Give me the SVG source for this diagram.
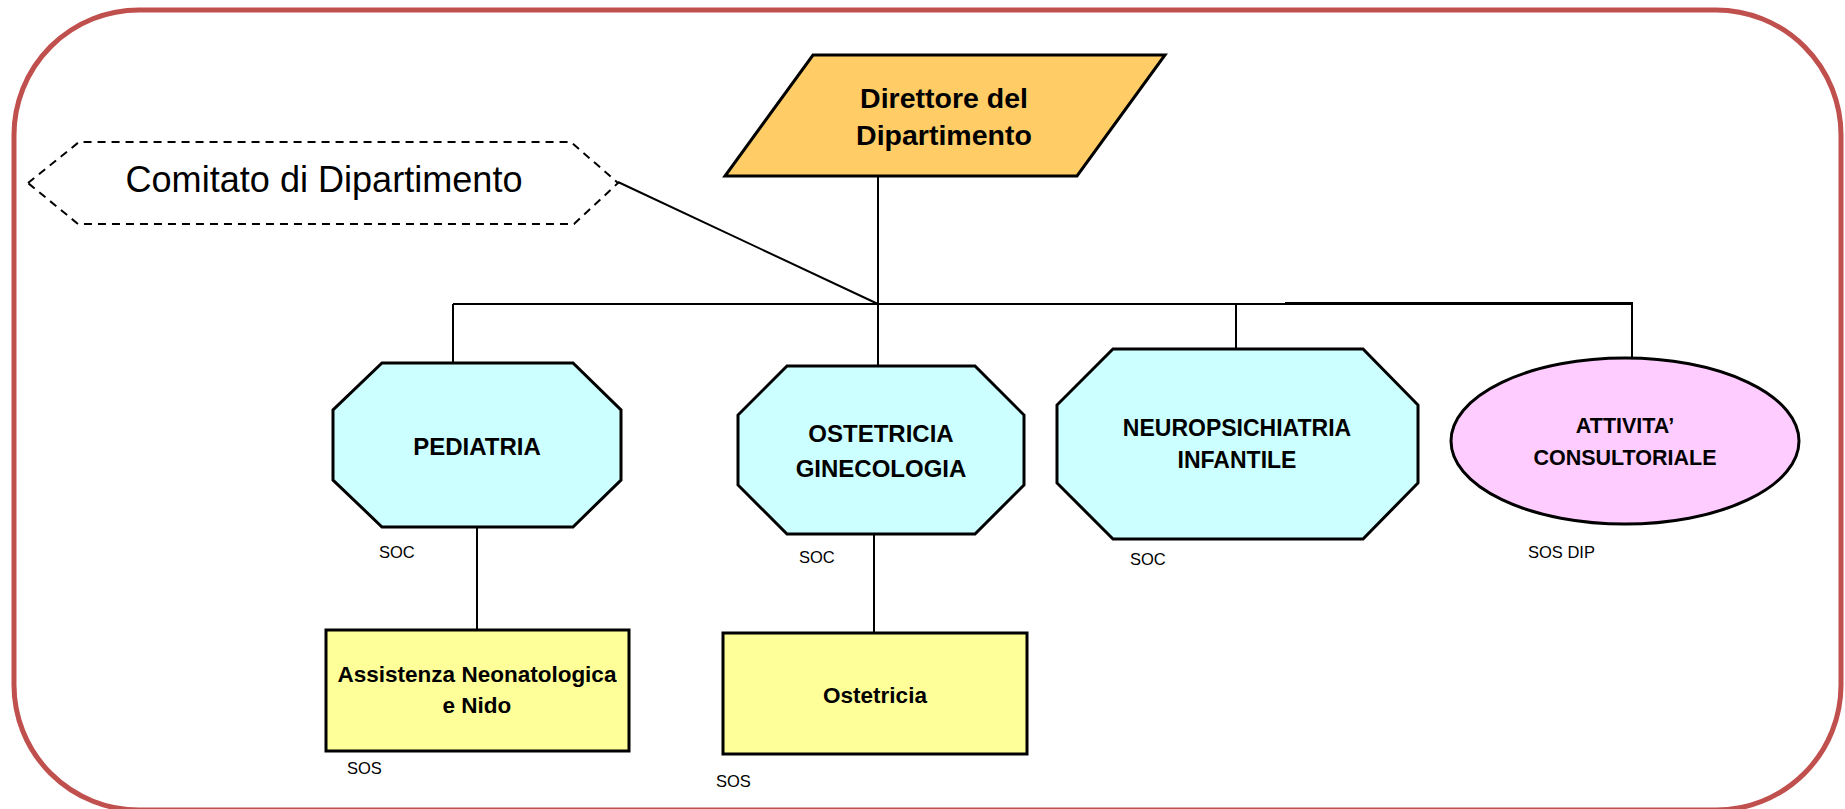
<svg xmlns="http://www.w3.org/2000/svg" width="1845" height="809" viewBox="0 0 1845 809">
<style>
.frame{fill:none;stroke:#C0504D;stroke-width:5}
.oct{fill:#CCFFFF;stroke:#000;stroke-width:3;stroke-linejoin:miter}
.box{fill:#FFFF99;stroke:#000;stroke-width:3}
.dir{fill:#FFCC66;stroke:#000;stroke-width:3}
.ell{fill:#FFCCFF;stroke:#000;stroke-width:3}
.com{fill:#fff;stroke:#000;stroke-width:2;stroke-dasharray:8 6}
.ln{stroke:#000;stroke-width:2;fill:none}
.ln3{stroke:#000;stroke-width:3;fill:none}
.t{font-family:"Liberation Sans",Arial,sans-serif;fill:#000;text-anchor:middle}
.b{font-weight:bold}
.lbl{font-family:"Liberation Sans",Arial,sans-serif;font-size:16.5px;fill:#000}
</style>
<rect class="frame" x="14" y="10" width="1827" height="800" rx="125" ry="125"/>
<g id="connectors">
<line class="ln" x1="878" y1="176" x2="878" y2="304"/>
<line class="ln" x1="618" y1="182" x2="878" y2="304"/>
<line class="ln" x1="453" y1="304" x2="1285" y2="304"/>
<line class="ln3" x1="1285" y1="303.5" x2="1633" y2="303.5"/>
<line class="ln" x1="453" y1="304" x2="453" y2="363"/>
<line class="ln" x1="878" y1="304" x2="878" y2="366"/>
<line class="ln" x1="1236" y1="304" x2="1236" y2="349"/>
<line class="ln" x1="1632" y1="303" x2="1632" y2="358"/>
<line class="ln" x1="477" y1="527" x2="477" y2="630"/>
<line class="ln" x1="874" y1="534" x2="874" y2="633"/>
</g>
<g id="comitato">
<polygon class="com" points="28,183 79,142 571,142 618,183 574,224 78,224"/>
<text class="t" x="324" y="192" font-size="36" textLength="397" lengthAdjust="spacingAndGlyphs">Comitato di Dipartimento</text>
</g>
<g id="direttore">
<polygon class="dir" points="813,55 1165,55 1077,176 725,176"/>
<text class="t b" x="944" y="108" font-size="28.5">Direttore del</text>
<text class="t b" x="944" y="145" font-size="28.5">Dipartimento</text>
</g>
<g id="pediatria">
<polygon class="oct" points="382,363 573,363 621,410 621,480 573,527 382,527 333,480 333,410"/>
<text class="t b" x="477" y="455" font-size="24">PEDIATRIA</text>
<text class="lbl" x="379" y="558">SOC</text>
</g>
<g id="ostetricia-ginecologia">
<polygon class="oct" points="787,366 975,366 1024,415 1024,485 975,534 787,534 738,485 738,415"/>
<text class="t b" x="881" y="442" font-size="24">OSTETRICIA</text>
<text class="t b" x="881" y="477" font-size="24">GINECOLOGIA</text>
<text class="lbl" x="799" y="563">SOC</text>
</g>
<g id="neuropsichiatria">
<polygon class="oct" points="1113,349 1363,349 1418,405 1418,483 1363,539 1113,539 1057,483 1057,405"/>
<text class="t b" x="1237" y="436" font-size="23">NEUROPSICHIATRIA</text>
<text class="t b" x="1237" y="468" font-size="23">INFANTILE</text>
<text class="lbl" x="1130" y="565">SOC</text>
</g>
<g id="attivita-consultoriale">
<ellipse class="ell" cx="1625" cy="441" rx="174" ry="83"/>
<text class="t b" x="1625" y="433" font-size="21.5">ATTIVITA’</text>
<text class="t b" x="1625" y="465" font-size="21.5">CONSULTORIALE</text>
<text class="lbl" x="1528" y="558">SOS DIP</text>
</g>
<g id="assistenza-neonatologica">
<rect class="box" x="326" y="630" width="303" height="121"/>
<text class="t b" x="477" y="682" font-size="22.5">Assistenza Neonatologica</text>
<text class="t b" x="477" y="713" font-size="22.5">e Nido</text>
<text class="lbl" x="347" y="774">SOS</text>
</g>
<g id="ostetricia">
<rect class="box" x="723" y="633" width="304" height="121"/>
<text class="t b" x="875" y="703" font-size="22.5">Ostetricia</text>
<text class="lbl" x="716" y="787">SOS</text>
</g>
</svg>
